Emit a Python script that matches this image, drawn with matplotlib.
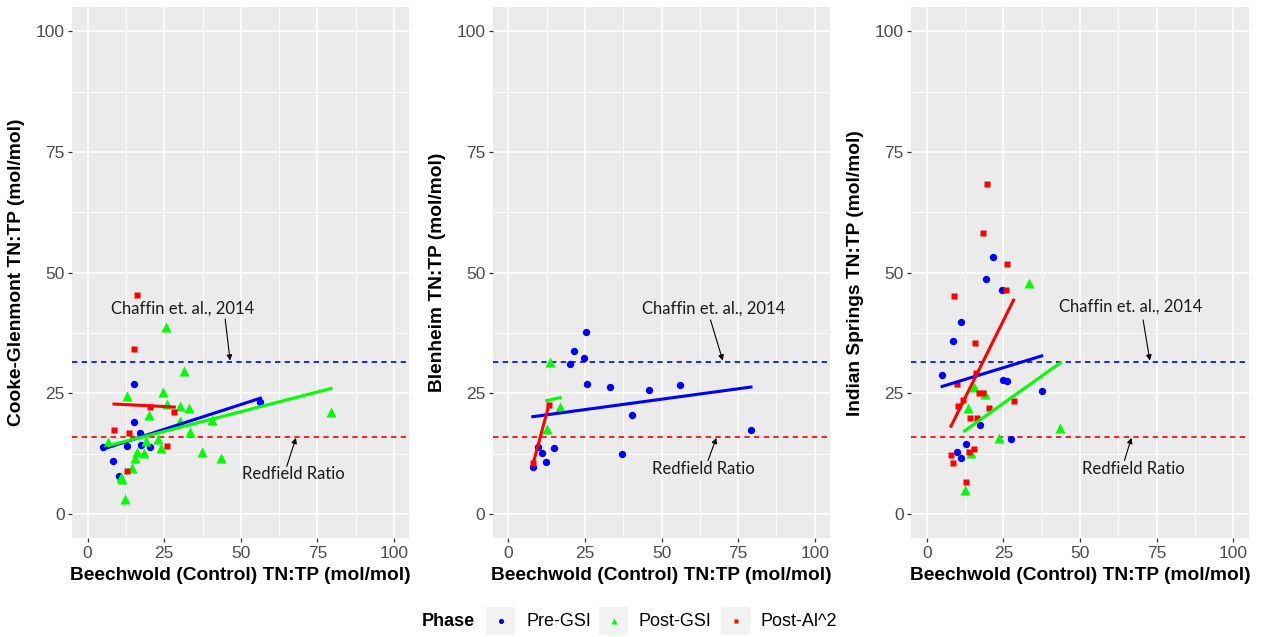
import numpy as np
import matplotlib.pyplot as plt
from matplotlib.patches import Rectangle
from matplotlib.ticker import MultipleLocator

plt.rcParams['font.family'] = ['Liberation Sans', 'DejaVu Sans']

# Beechwold (control) TN:TP on x, treatment lake TN:TP on y, split by phase
cg_pre_x = [5.0, 15.0, 15.2, 17.0, 12.8, 17.5, 20.5, 8.4, 10.2, 56.4]
cg_pre_y = [13.8, 26.9, 19.0, 16.8, 14.1, 14.3, 13.8, 11.1, 7.8, 23.2]
cg_post_x = [25.5, 31.5, 12.8, 24.5, 26.0, 30.0, 33.1, 20.1, 30.1, 40.7, 33.5, 79.5, 6.8,
             19.2, 23.0, 23.8, 16.0, 18.3, 15.4, 14.6, 11.0, 11.3, 12.2, 37.4, 43.4]
cg_post_y = [38.7, 29.7, 24.5, 25.3, 22.8, 22.3, 21.9, 20.5, 19.2, 19.4, 17.0, 21.2, 14.9,
             15.1, 15.5, 13.7, 12.9, 12.6, 11.6, 9.5, 7.6, 7.2, 3.2, 12.8, 11.7]
cg_al_x = [16.2, 15.3, 8.6, 13.5, 20.5, 28.3, 26.0, 12.7]
cg_al_y = [45.3, 34.2, 17.5, 16.8, 22.2, 21.1, 14.1, 8.9]

bl_pre_x = [25.3, 21.3, 24.6, 20.2, 25.6, 33.1, 46.0, 56.2, 40.5, 79.2, 37.0, 14.9, 10.9,
            9.8, 12.4, 8.0]
bl_pre_y = [37.7, 33.7, 32.3, 31.1, 27.0, 26.3, 25.7, 26.8, 20.5, 17.4, 12.5, 13.7, 12.7,
            14.0, 10.7, 9.8]
bl_post_x = [13.6, 16.9, 12.5]
bl_post_y = [31.4, 22.2, 17.7]
bl_al_x = [8.1, 13.3]
bl_al_y = [10.5, 22.7]

is_pre_x = [21.7, 19.3, 24.6, 11.2, 8.4, 5.0, 25.0, 26.1, 37.5, 17.4, 27.5, 12.7, 10.0, 11.0]
is_pre_y = [53.3, 48.7, 46.4, 39.7, 35.9, 28.8, 27.7, 27.6, 25.5, 18.5, 15.6, 14.5, 12.8, 11.6]
is_post_x = [33.3, 15.3, 19.1, 13.6, 23.5, 14.3, 12.3, 43.6]
is_post_y = [47.9, 26.3, 24.9, 22.0, 15.7, 12.7, 5.0, 17.9]
is_al_x = [19.7, 18.5, 26.2, 25.8, 8.8, 15.8, 16.1, 9.7, 17.0, 18.2, 11.7, 10.2, 28.3, 20.4,
           14.1, 16.3, 15.4, 13.7, 7.9, 8.7, 12.8]
is_al_y = [68.4, 58.3, 51.7, 46.5, 45.2, 35.5, 29.2, 27.0, 25.1, 25.1, 23.7, 22.4, 23.5, 21.9,
           19.9, 19.9, 13.4, 12.95, 12.3, 10.6, 6.6]

chaffin_ratio = 31.6
redfield_ratio = 16

phases = ['Pre-GSI', 'Post-GSI', 'Post-Al^2']
phase_colors = ['#0000FF', '#00FF00', '#FF0000']
phase_markers = ['o', '^', 's']
phase_sizes = [5.3, 6.6, 4.9]

lakes = ['Cooke-Glenmont', 'Blenheim', 'Indian Springs']
lake_data = [
    [(cg_pre_x, cg_pre_y), (cg_post_x, cg_post_y), (cg_al_x, cg_al_y)],
    [(bl_pre_x, bl_pre_y), (bl_post_x, bl_post_y), (bl_al_x, bl_al_y)],
    [(is_pre_x, is_pre_y), (is_post_x, is_post_y), (is_al_x, is_al_y)],
]

# label text spot, arrow tail, arrow head for each panel
chaffin_notes = [((30.9, 42.6), (44.9, 40.4), (46.5, 31.8)),
                 ((67.0, 42.6), (66.0, 40.2), (70.0, 31.8)),
                 ((66.5, 42.9), (70.6, 40.2), (72.8, 31.8))]
redfield_notes = [((67.3, 8.3), (65.0, 9.9), (68.0, 15.8)),
                  ((63.7, 9.3), (65.2, 11.1), (67.9, 15.8)),
                  ((67.3, 9.3), (64.5, 11.1), (66.8, 15.8))]

W, H = 1265, 637
fig = plt.figure(figsize=(W / 100, H / 100), dpi=100)
panel_lefts = [72.3, 493.0, 911.5]

for k, lake in enumerate(lakes):
    ax = fig.add_axes([panel_lefts[k] / W, (H - 538.3) / H, 337 / W, 531.3 / H])
    ax.set_facecolor('#EBEBEB')
    for s in ax.spines.values():
        s.set_visible(False)
    ax.set_xlim(-5, 105)
    ax.set_ylim(-5, 105)
    ax.xaxis.set_major_locator(MultipleLocator(25))
    ax.yaxis.set_major_locator(MultipleLocator(25))
    ax.xaxis.set_minor_locator(MultipleLocator(12.5))
    ax.yaxis.set_minor_locator(MultipleLocator(12.5))
    ax.grid(which='major', color='white', lw=1.2)
    ax.grid(which='minor', color='white', lw=0.6)
    ax.set_axisbelow(True)
    ax.tick_params(which='major', length=3, width=0.9, color='#333333',
                   labelsize=12.5, labelcolor='#4D4D4D', pad=2.5)
    ax.tick_params(which='minor', length=0)

    for (x, y), c, m, ms in zip(lake_data[k], phase_colors, phase_markers, phase_sizes):
        ax.plot(x, y, ls='none', marker=m, ms=ms, color=c, mec='none', zorder=3)

    # linear fit per phase over that phase's x range
    for (x, y), c in zip(lake_data[k], phase_colors):
        x = np.asarray(x)
        slope, icpt = np.polyfit(x, np.asarray(y), 1)
        xs = np.array([x.min(), x.max()])
        ax.plot(xs, icpt + slope * xs, color=c, lw=2.2, zorder=4)

    ax.axhline(chaffin_ratio, color='#0000FF', lw=1.2, dashes=(3.2, 2.6), zorder=2)
    ax.axhline(redfield_ratio, color='#FF0000', lw=1.2, dashes=(3.2, 2.6), zorder=2)

    for label, (txt, tail, head) in zip(['Chaffin et. al., 2014', 'Redfield Ratio'],
                                         [chaffin_notes[k], redfield_notes[k]]):
        ax.text(txt[0], txt[1], label, ha='center', va='center', fontsize=12,
                family=['Lato', 'DejaVu Sans'], color='#1A1A1A', zorder=5)
        ax.annotate('', xy=head, xytext=tail,
                    arrowprops=dict(arrowstyle='-|>', color='black', lw=0.8,
                                    mutation_scale=8, shrinkA=0, shrinkB=0), zorder=5)

    ax.set_xlabel('Beechwold (Control) TN:TP (mol/mol)', fontsize=13.8,
                  fontweight='bold', color='black')
    ax.xaxis.set_label_coords(0.5, -0.054)
    ax.set_ylabel(lake + ' TN:TP (mol/mol)', fontsize=13.8, fontweight='bold', color='black')
    ax.yaxis.set_label_coords(-0.14, 0.5)

# legend strip along the bottom, drawn in pixel units
lax = fig.add_axes([0, 0, 1, 1])
lax.set_xlim(0, W)
lax.set_ylim(H, 0)
lax.axis('off')
lax.text(421.7, 621, 'Phase', fontsize=13, fontweight='bold', ha='left', va='center')
key_lefts = [486, 599, 721]
for name, c, m, ms, kl in zip(phases, phase_colors, phase_markers, phase_sizes, key_lefts):
    lax.add_patch(Rectangle((kl, 607), 29, 28, facecolor='#F2F2F2', edgecolor='none'))
    lax.plot([kl + 14.5], [621], marker=m, ms=ms * 0.7, color=c, mec='none', ls='none')
    lax.text(kl + 40, 621, name, fontsize=13, ha='left', va='center', color='black')

fig.savefig('out.png', dpi=100, facecolor='white')
